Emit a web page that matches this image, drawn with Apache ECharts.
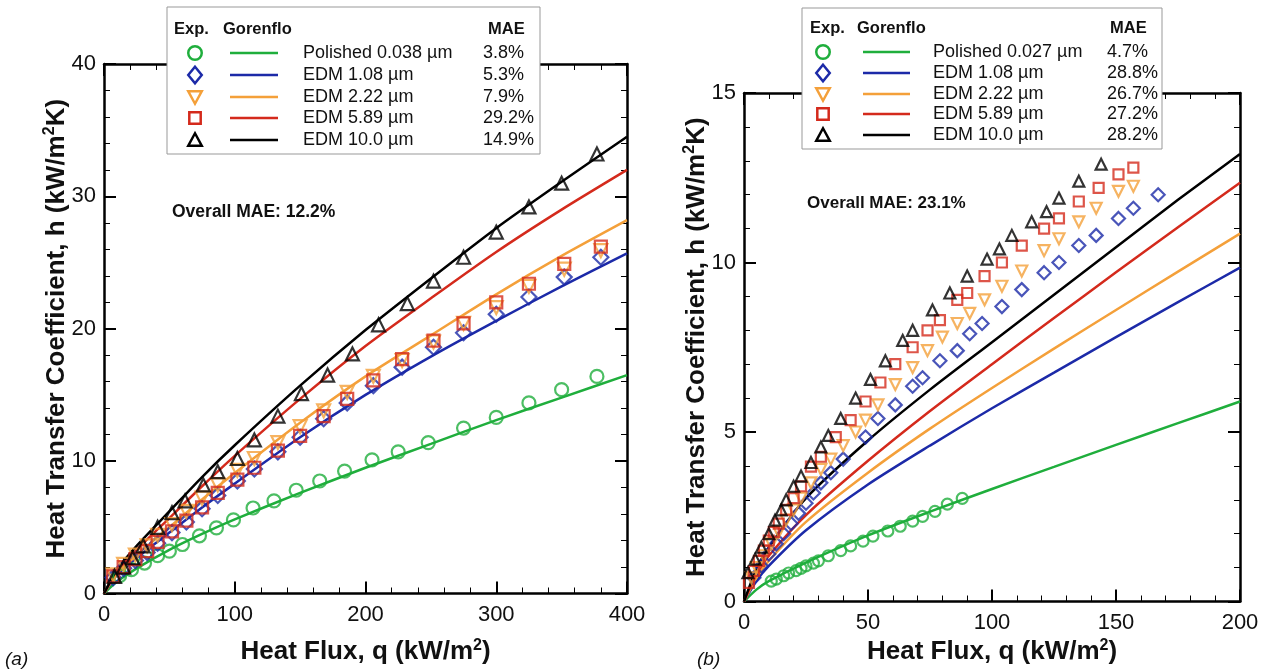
<!DOCTYPE html>
<html><head><meta charset="utf-8">
<script src="https://cdn.jsdelivr.net/npm/echarts@6/dist/echarts.min.js"></script>
<style>html,body{margin:0;padding:0;background:#fff}#c{width:1270px;height:670px}</style>
</head><body><div id="c"></div>
<script>
// ---------- DATA ----------
const colors = ['#1fae3c', '#1c2aa8', '#f4a03a', '#d42a1c', '#000000'];
const symbols = ['circle', 'diamond', 'triangle', 'rect', 'triangle'];
const symbolRot = [0, 0, 180, 0, 0];

// Panel (a)
const namesA = ['Polished 0.038 \u00b5m', 'EDM 1.08 \u00b5m', 'EDM 2.22 \u00b5m', 'EDM 5.89 \u00b5m', 'EDM 10.0 \u00b5m'];
const maeA = ['3.8%', '5.3%', '7.9%', '29.2%', '14.9%'];
const overallA = 'Overall MAE: 12.2%';

const qA_pol = [12,21,31,41,50,60,73,86,99,114,130,147,165,184,205,225,248,275,300,325,350,377];
const hA_pol = [1.35,1.8,2.3,2.86,3.2,3.7,4.36,4.96,5.56,6.46,7.0,7.8,8.5,9.25,10.1,10.7,11.4,12.5,13.3,14.4,15.4,16.4];
const qA_edm = [7,15,24,33,41,52,63,75,87,102,115,133,150,168,186,206,228,252,275,300,325,352,380];
const hA_108 = [1.2,1.9,2.5,3.1,3.8,4.6,5.4,6.4,7.4,8.5,9.4,10.7,11.8,13.2,14.4,15.7,17.1,18.6,19.7,21.1,22.4,23.9,25.4];
const hA_222 = [1.4,2.2,2.9,3.6,4.4,5.2,6.2,7.2,8.2,9.3,10.2,11.4,12.6,13.8,15.2,16.4,17.6,19.0,20.4,21.6,23.2,24.5,25.9];
const hA_589 = [1.3,2.0,2.6,3.2,3.9,4.7,5.5,6.5,7.6,8.6,9.5,10.8,11.9,13.4,14.7,16.1,17.7,19.1,20.4,22.0,23.4,24.9,26.2];
const qA_100 = [8,15,22,30,41,52,62,76,87,102,115,133,151,171,190,210,232,252,275,300,325,350,377];
const hA_100 = [1.3,2.0,2.7,3.6,5.0,6.1,7.0,8.2,9.2,10.2,11.6,13.4,15.1,16.5,18.1,20.3,21.9,23.6,25.4,27.3,29.2,31.0,33.2];

const qA_line = [0,10,25,50,75,100,150,200,250,300,350,400];
const gA_pol = [0,0.9,1.9,3.3,4.5,5.6,7.6,9.5,11.3,13.1,14.8,16.5];
const gA_108 = [0,1.4,2.7,4.6,6.5,8.3,11.8,15.0,17.9,20.6,23.2,25.7];
const gA_222 = [0,1.5,2.9,5.0,7.1,9.1,12.9,16.4,19.5,22.6,25.5,28.2];
const gA_589 = [0,1.7,3.3,5.7,8.1,10.4,14.7,18.7,22.3,25.8,29.0,32.0];
const gA_100 = [0,1.8,3.6,6.2,8.8,11.2,15.7,19.9,23.8,27.6,31.1,34.5];

// Panel (b)
const namesB = ['Polished 0.027 \u00b5m', 'EDM 1.08 \u00b5m', 'EDM 2.22 \u00b5m', 'EDM 5.89 \u00b5m', 'EDM 10.0 \u00b5m'];
const maeB = ['4.7%', '28.8%', '26.7%', '27.2%', '28.2%'];
const overallB = 'Overall MAE: 23.1%';

const qB_pol = [11,13,16,18,21,23,25,28,30,34,39,43,48,52,58,63,68,72,77,82,88];
const hB_pol = [0.6,0.66,0.76,0.84,0.91,0.98,1.05,1.13,1.2,1.35,1.5,1.64,1.78,1.93,2.08,2.22,2.37,2.51,2.66,2.87,3.04];
const qB_108 = [4,7,10,13,16,19,22,25,28,31,35,40,49,54,61,68,72,79,86,91,96,104,112,121,127,135,142,151,157,167];
const hB_108 = [0.7,1.05,1.4,1.7,2.0,2.3,2.6,2.9,3.2,3.5,3.8,4.2,4.85,5.4,5.8,6.35,6.6,7.1,7.4,7.9,8.2,8.7,9.2,9.7,10.0,10.5,10.8,11.3,11.6,12.0];
const qB_222 = [3,5,8,11,14,17,20,23,27,31,35,40,45,49,54,61,68,74,80,86,91,97,104,112,121,127,135,142,151,157];
const hB_222 = [0.7,1.0,1.35,1.7,2.05,2.4,2.7,3.05,3.5,3.9,4.2,4.6,5.0,5.35,5.8,6.4,6.9,7.4,7.8,8.2,8.5,8.9,9.3,9.75,10.35,10.7,11.2,11.6,12.1,12.25];
const qB_589 = [2,4,6,8,10,12,14,17,20,23,27,31,37,43,49,55,61,68,74,79,86,90,97,104,112,121,127,135,143,151,157];
const hB_589 = [0.55,0.9,1.2,1.5,1.8,2.05,2.3,2.7,3.05,3.4,3.98,4.27,4.85,5.35,5.9,6.46,7.0,7.5,8.0,8.3,8.9,9.1,9.6,10.0,10.5,11.0,11.3,11.8,12.2,12.6,12.8];
const qB_100 = [1.6,4.5,7,10,12.5,15,17,20,23,27,31,34,39,45,51,57,64,68,76,83,90,98,103,108,116,122,127,135,144];
const hB_100 = [0.85,1.25,1.6,2.0,2.4,2.7,3.0,3.4,3.7,4.1,4.56,4.9,5.4,6.0,6.55,7.1,7.7,8.0,8.6,9.1,9.6,10.1,10.4,10.8,11.2,11.5,11.9,12.4,12.9];

const qB_line = [0,5,10,25,50,75,100,125,150,175,200];
const gB_pol = [0,0.35,0.6,1.15,1.95,2.65,3.32,3.97,4.62,5.26,5.9];
const gB_108 = [0,0.6,1.05,2.1,3.45,4.6,5.7,6.75,7.8,8.83,9.85];
const gB_222 = [0,0.7,1.2,2.35,3.8,5.1,6.3,7.46,8.6,9.73,10.85];
const gB_589 = [0,0.8,1.35,2.55,4.15,5.62,7.0,8.36,9.71,11.04,12.35];
const gB_100 = [0,0.95,1.6,3.05,4.75,6.25,7.65,9.05,10.45,11.85,13.2];

// ---------- BUILD ----------
const zip = (xs, ys) => xs.map((x, i) => [x, ys[i]]);
const expA = [[qA_pol,hA_pol],[qA_edm,hA_108],[qA_edm,hA_222],[qA_edm,hA_589],[qA_100,hA_100]];
const lineA = [gA_pol,gA_108,gA_222,gA_589,gA_100];
const expB = [[qB_pol,hB_pol],[qB_108,hB_108],[qB_222,hB_222],[qB_589,hB_589],[qB_100,hB_100]];
const lineB = [gB_pol,gB_108,gB_222,gB_589,gB_100];

const FONT = '"Liberation Sans", Arial, sans-serif';
const tickFont = {fontFamily: FONT, fontSize: 22, color: '#111'};
const rich = {
  t: {fontFamily: FONT, fontWeight: 'bold', fontSize: 26, color: '#111'},
  s: {fontFamily: FONT, fontWeight: 'bold', fontSize: 16, color: '#111', padding: [0, 0, 13, 0]}
};
const axisLine = {show: true, onZero: false, lineStyle: {color: '#000', width: 2.5}};

function mkX(grid, max, interval, minorSplit, pos, withLabel, nameGap) {
  return {
    type: 'value', gridIndex: grid, min: 0, max: max, interval: interval, position: pos,
    axisLine: axisLine,
    axisTick: {show: true, inside: true, length: 12, lineStyle: {color: '#000', width: 2}},
    minorTick: {show: true, inside: true, splitNumber: minorSplit, length: 6, lineStyle: {color: '#000', width: 1}},
    splitLine: {show: false},
    axisLabel: withLabel ? Object.assign({margin: 10}, tickFont) : {show: false},
    name: withLabel ? '{t|Heat Flux, q (kW/m}{s|2}{t|)}' : '',
    nameLocation: 'middle', nameGap: nameGap, nameMoveOverlap: false,
    nameTextStyle: {rich: rich}
  };
}
function mkY(grid, max, interval, minorSplit, pos, withLabel, nameGap) {
  return {
    type: 'value', gridIndex: grid, min: 0, max: max, interval: interval, position: pos,
    axisLine: axisLine,
    axisTick: {show: true, inside: true, length: 12, lineStyle: {color: '#000', width: 2}},
    minorTick: {show: true, inside: true, splitNumber: minorSplit, length: 6, lineStyle: {color: '#000', width: 1}},
    splitLine: {show: false},
    axisLabel: withLabel ? Object.assign({margin: 8}, tickFont) : {show: false},
    name: withLabel ? '{t|Heat Transfer Coefficient, h (kW/m}{s|2}{t|K)}' : '',
    nameLocation: 'middle', nameGap: nameGap, nameRotate: 90, nameMoveOverlap: false,
    nameTextStyle: {rich: rich}
  };
}

const series = [];
function addPanel(xi, yi, exp, lines, qLine, symSize) {
  for (let i = 0; i < 5; i++) {
    series.push({
      type: 'line', xAxisIndex: xi, yAxisIndex: yi, data: zip(qLine, lines[i]),
      showSymbol: false, smooth: 0.25,
      lineStyle: {color: colors[i], width: 2.5}, silent: true, z: 2
    });
  }
  for (let i = 0; i < 5; i++) {
    series.push({
      type: 'scatter', xAxisIndex: xi, yAxisIndex: yi, data: zip(exp[i][0], exp[i][1]),
      symbol: symbols[i], symbolRotate: symbolRot[i],
      symbolSize: (symbols[i] === 'diamond') ? symSize + 2 : (symbols[i] === 'rect' ? symSize - 1 : symSize),
      itemStyle: {color: 'rgba(255,255,255,0)', borderColor: colors[i], borderWidth: 2.2},
      silent: true, z: 3
    });
  }
}
addPanel(0, 0, expA, lineA, qA_line, 13);
addPanel(2, 2, expB, lineB, qB_line, 11);

// Legend graphics
function marker(type, rot, cx, cy, c, s) {
  const st = {fill: 'none', stroke: c, lineWidth: 2.5};
  if (type === 'circle') return {type: 'circle', shape: {cx: cx, cy: cy, r: s * 0.45}, style: st};
  if (type === 'rect') return {type: 'rect', shape: {x: cx - s * 0.38, y: cy - s * 0.38, width: s * 0.76, height: s * 0.76}, style: st};
  if (type === 'diamond') return {type: 'polygon', shape: {points: [[cx, cy - s * 0.55], [cx + s * 0.45, cy], [cx, cy + s * 0.55], [cx - s * 0.45, cy]]}, style: st};
  if (rot === 180) return {type: 'polygon', shape: {points: [[cx - s * 0.45, cy - s * 0.38], [cx + s * 0.45, cy - s * 0.38], [cx, cy + s * 0.45]]}, style: st};
  return {type: 'polygon', shape: {points: [[cx - s * 0.45, cy + s * 0.38], [cx + s * 0.45, cy + s * 0.38], [cx, cy - s * 0.45]]}, style: st};
}
const graphics = [];
function txt(t, x, y, font, align) {
  graphics.push({type: 'text', style: {text: t, x: x, y: y, font: font, fill: '#111', align: align || 'left', verticalAlign: 'middle'}, z: 20});
}
function legend(L) {
  graphics.push({type: 'rect', shape: {x: L.x0, y: L.y0, width: L.w, height: L.h}, style: {fill: '#fff', stroke: '#999', lineWidth: 1}, z: 10});
  const hf = 'bold 16.5px ' + FONT;
  txt('Exp.', L.expX, L.hy, hf);
  txt('Gorenflo', L.gX, L.hy, hf);
  txt('MAE', L.maeHX, L.hy, hf);
  for (let i = 0; i < 5; i++) {
    const y = L.rows[i];
    const m = marker(symbols[i], symbolRot[i], L.mX, y, colors[i], 15);
    m.z = 20; graphics.push(m);
    graphics.push({type: 'line', shape: {x1: L.l1, y1: y, x2: L.l2, y2: y}, style: {stroke: colors[i], lineWidth: 2.5}, z: 20});
    txt(L.names[i], L.tX, y, '18px ' + FONT);
    txt(L.mae[i], L.maeX, y, '18px ' + FONT);
  }
}
legend({x0: 167, y0: 7, w: 373, h: 147, hy: 29, expX: 174, gX: 223, maeHX: 488, rows: [53, 75, 97, 118, 140],
  mX: 195, l1: 230, l2: 278, tX: 303, maeX: 483, names: namesA, mae: maeA});
legend({x0: 802, y0: 8, w: 360, h: 141, hy: 28, expX: 810, gX: 857, maeHX: 1110, rows: [52, 73, 94, 114, 135],
  mX: 823, l1: 863, l2: 910, tX: 933, maeX: 1107, names: namesB, mae: maeB});
txt(overallA, 172, 212, 'bold 17.5px ' + FONT);
txt(overallB, 807, 203, 'bold 17px ' + FONT);
txt('(a)', 5, 660, 'italic 19px ' + FONT);
txt('(b)', 697, 660, 'italic 19px ' + FONT);

const chart = echarts.init(document.getElementById('c'), null, {renderer: 'canvas'});
chart.setOption({
  backgroundColor: '#fff',
  animation: false,
  grid: [
    {left: 104, top: 64, width: 523, height: 532},
    {left: 744, top: 93, width: 496, height: 513}
  ],
  xAxis: [
    mkX(0, 400, 100, 5, 'bottom', true, 44),
    mkX(0, 400, 100, 5, 'top', false, 0),
    mkX(1, 200, 50, 5, 'bottom', true, 36),
    mkX(1, 200, 50, 5, 'top', false, 0)
  ],
  yAxis: [
    mkY(0, 40, 10, 5, 'left', true, 33),
    mkY(0, 40, 10, 5, 'right', false, 0),
    mkY(1, 15, 5, 5, 'left', true, 33),
    mkY(1, 15, 5, 5, 'right', false, 0)
  ],
  series: series,
  graphic: graphics
});
</script></body></html>
